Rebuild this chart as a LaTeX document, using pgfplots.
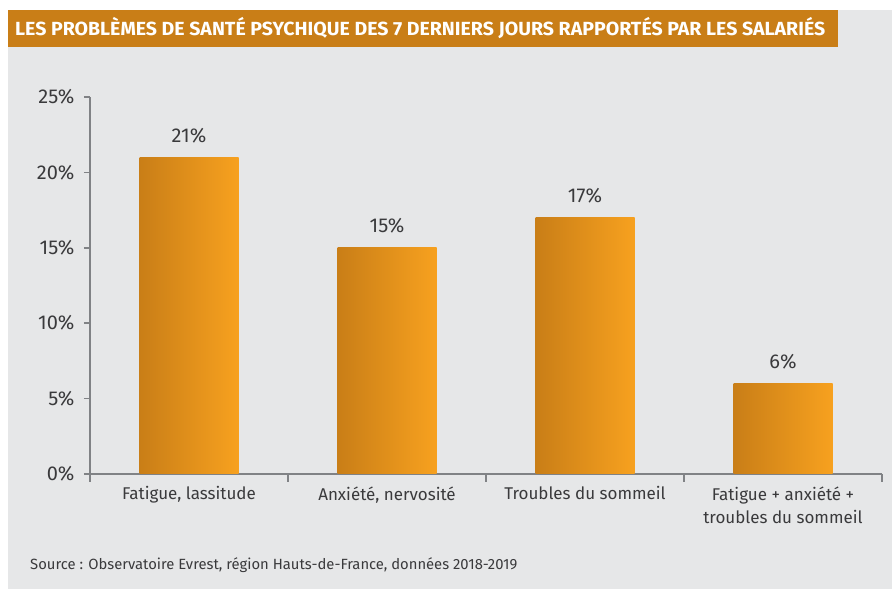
\documentclass[border=0pt]{standalone}
\usepackage{pgfplots}
\pgfplotsset{compat=1.18}
\usepackage{fontspec}
\setmainfont{Fira Sans}
\usepackage{graphicx}
\definecolor{bgc}{HTML}{E6E7E8}
\definecolor{banner}{HTML}{C97E17}
\definecolor{barL}{HTML}{C97E17}
\definecolor{barR}{HTML}{F7A11F}
\definecolor{textc}{HTML}{3A3A3C}
\definecolor{axisc}{HTML}{808285}
\begin{document}
\begin{tikzpicture}[x=1pt,y=1pt]
\useasboundingbox (0,0) rectangle (892,589);
\fill[white] (0,0) rectangle (892,589);
\fill[bgc] (8,0) rectangle (892,579);
\fill[banner] (8,542) rectangle (838,579);
\node[anchor=west, text=white, inner sep=0pt] at (15,560.5) {\resizebox{810pt}{\height}{\fontsize{19pt}{19pt}\selectfont\bfseries LES PROBLÈMES DE SANTÉ PSYCHIQUE DES 7 DERNIERS JOURS RAPPORTÉS PAR LES SALARIÉS}};
\begin{axis}[
  at={(90pt,115pt)}, anchor=south west,
  scale only axis, width=792pt, height=377pt,
  xmin=-0.5, xmax=3.5, ymin=0, ymax=25,
  axis x line=bottom, axis y line=left,
  axis line style={-, draw=axisc, line width=1.5pt},
  tick align=outside,
  ytick={0,5,10,15,20,25},
  yticklabel={\pgfmathprintnumber{\tick}\%},
  /pgf/number format/assume math mode=true,
  xtick={0,1,2,3},
  xticklabels={{Fatigue, lassitude},{Anxiété, nervosité},{Troubles du sommeil},{Fatigue + anxiété +\\troubles du sommeil}},
  minor xtick={-0.5,0.5,1.5,2.5,3.5},
  major x tick style={draw=none},
  major tick length=6pt,
  minor tick length=8pt,
  tick style={draw=axisc, line width=1.5pt},
  ticklabel style={text=textc},
  yticklabel style={font=\fontsize{20pt}{22pt}\selectfont, xshift=-6pt},
  xticklabel style={font=\fontsize{17pt}{23pt}\selectfont, align=center, anchor=north, yshift=-3pt},
  ybar, bar width=0.5, bar shift=0pt,
  nodes near coords={\pgfmathprintnumber{\pgfplotspointmeta}\%},
  every node near coord/.append style={font=\fontsize{20pt}{22pt}\selectfont, text=textc, yshift=11pt},
  clip=false,
]
\addplot[draw=none, left color=barL, right color=barR] coordinates {(0,21)};
\addplot[draw=none, left color=barL, right color=barR] coordinates {(1,15)};
\addplot[draw=none, left color=barL, right color=barR] coordinates {(2,17)};
\addplot[draw=none, left color=barL, right color=barR] coordinates {(3,6)};
\end{axis}
\node[anchor=base west, text=textc, inner sep=0pt, font=\fontsize{14.8pt}{16pt}\selectfont] at (30,19) {Source : Observatoire Evrest, région Hauts-de-France, données 2018-2019};
\end{tikzpicture}
\end{document}
